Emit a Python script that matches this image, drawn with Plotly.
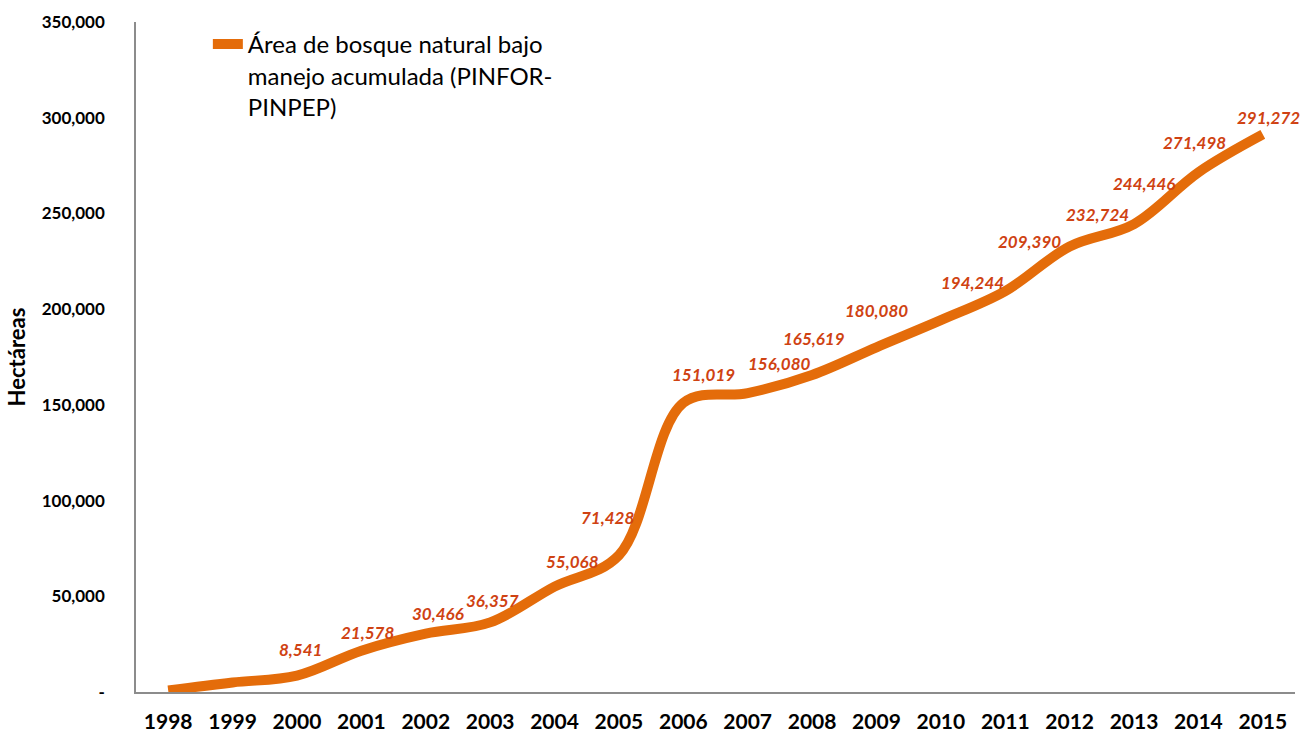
import plotly.graph_objects as go

years = list(range(1998, 2016))
hectareas = [800, 5000, 8541, 21578, 30466, 36357, 55068, 71428, 151019,
             156080, 165619, 180080, 194244, 209390, 232724, 244446, 271498, 291272]
labels = ["", "", "8,541", "21,578", "30,466", "36,357", "55,068", "71,428",
          "151,019", "156,080", "165,619", "180,080", "194,244", "209,390",
          "232,724", "244,446", "271,498", "291,272"]
y_ticks = [0, 50000, 100000, 150000, 200000, 250000, 300000, 350000]
y_ticktext = ["-", "50,000", "100,000", "150,000", "200,000", "250,000", "300,000", "350,000"]

# where each data label sits relative to its point (pixels: right, up)
label_offsets = {
    2000: (4, 26), 2001: (6, 18), 2002: (12, 20), 2003: (2, 22), 2004: (18, 25),
    2005: (-11, 38), 2006: (20, 28), 2007: (32, 30), 2008: (2, 36), 2009: (0, 37),
    2010: (32, 38), 2011: (24, 50), 2012: (28, 32), 2013: (10, 41), 2014: (-4, 30),
    2015: (6, 17),
}

line_color = "#E46C0A"
label_color = "#CF4212"
font_family = "Lato, 'Open Sans', sans-serif"

fig = go.Figure()
fig.add_trace(
    go.Scatter(
        x=years,
        y=hectareas,
        mode="lines",
        line=dict(color=line_color, width=10, shape="spline", smoothing=1.0),
        name="Área de bosque natural bajo<br>manejo acumulada (PINFOR-<br>PINPEP)",
    )
)

for yr, val, txt in zip(years, hectareas, labels):
    if txt:
        dx, dy = label_offsets.get(yr, (6, 26))
        fig.add_annotation(
            x=yr, y=val, text=f"<b><i>{txt}</i></b>", showarrow=False,
            xshift=dx, yshift=dy,
            font=dict(family=font_family, size=17, color=label_color),
        )

fig.update_layout(
    width=1302,
    height=736,
    paper_bgcolor="white",
    plot_bgcolor="white",
    margin=dict(l=136, r=7, t=22, b=44),
    font=dict(family=font_family, color="black"),
    showlegend=True,
    legend=dict(
        x=0.062, y=1.0, xanchor="left", yanchor="top",
        font=dict(size=24, color="black"),
        bgcolor="rgba(0,0,0,0)",
        valign="top",
    ),
    xaxis=dict(
        range=[1997.5, 2015.5],
        tickvals=years,
        ticktext=[f"<b>{y}</b>" for y in years],
        showline=True, linecolor="#8C8C8C", linewidth=1.5,
        showgrid=False, ticks="", zeroline=False,
        tickfont=dict(size=21, color="black", family=font_family),
        ticklabelstandoff=10,
        automargin=False,
    ),
    yaxis=dict(
        range=[0, 350000],
        tickvals=y_ticks,
        ticktext=[f"<b>{t}</b>" for t in y_ticktext],
        showline=True, linecolor="#8C8C8C", linewidth=1.5,
        showgrid=False, ticks="", zeroline=False,
        tickfont=dict(size=17, color="black", family=font_family),
        ticklabelstandoff=26,
        title=dict(text="<b>Hectáreas</b>", font=dict(size=22, color="black"), standoff=10),
        automargin=False,
    ),
)

# the page's default body margin would push the chart 8px down and right
fig.write_html(
    "out.html",
    config={"displayModeBar": False},
    post_script="document.body.style.margin = '0';",
)
